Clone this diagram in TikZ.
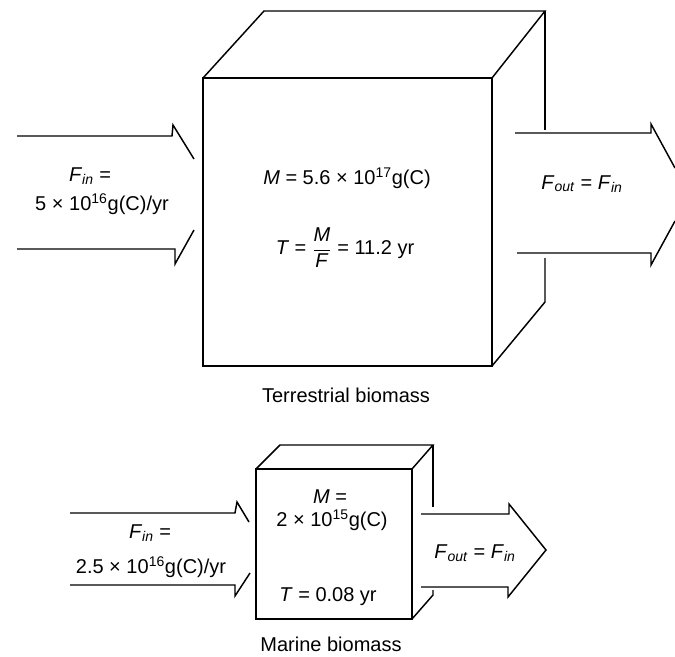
\documentclass[tikz,border=0pt]{standalone}
\usepackage{amsmath}
\usepackage{fontspec}
\setmainfont{Liberation Sans}
\begin{document}
\begin{tikzpicture}[x=0.75pt,y=-0.75pt, line width=1.1pt, line join=miter,
  lbl/.style={font=\fontsize{15}{18}\selectfont, inner sep=0pt, align=center},
  outline/.style={draw=black, line width=1.1pt}]
\useasboundingbox (0,0) rectangle (675,657);

% ---------- terrestrial cube ----------
\coordinate (A1) at (203,78);  \coordinate (A2) at (492,78);
\coordinate (A3) at (492,366); \coordinate (A4) at (203,366);
\coordinate (A5) at (264,11);  \coordinate (A6) at (545,11);
\draw[outline] (A1) -- (A2) -- (A3) -- (A4) -- cycle;
\draw[outline] (A1) -- (A5) -- (A6) -- (A2);
\draw[outline] (A6) -- (545,130);
\draw[outline] (545,258) -- (545,302) -- (A3);

% incoming arrow (tip hidden behind cube)
\draw[outline] (17,136) -- (172,136) -- (173,125) -- (194,159);
\draw[outline] (17,249) -- (175,249) -- (175,264) -- (194,230);

% outgoing arrow (tip cut by the border)
\draw[outline] (515,133) -- (651,133) -- (651,124) -- (675,168);
\draw[outline] (517,253) -- (651,253) -- (651,265) -- (675,221);

\node[lbl] (tin1) at (90,176) {\textit{F}\textsubscript{\textit{in}} =};
\node[lbl] (tin2) at (102,204) {5 × 10\textsuperscript{16}g(C)/yr};
\node[lbl] (tm) at (347,178) {\textit{M} = 5.6 × 10\textsuperscript{17}g(C)};
\node[lbl] (tt) at (345,248) {\textit{T} = $\dfrac{\text{\textit{M}}}{\text{\textit{F}}}$ = 11.2 yr};
\node[lbl] (tout) at (582,184) {\textit{F}\textsubscript{\textit{out}} = \textit{F}\textsubscript{\textit{in}}};
\node[lbl] (tcap) at (346,395) {Terrestrial biomass};

% ---------- marine cube ----------
\coordinate (B1) at (256,469); \coordinate (B2) at (412,469);
\coordinate (B3) at (412,619); \coordinate (B4) at (256,619);
\coordinate (B5) at (280,445); \coordinate (B6) at (433,445);
\draw[outline] (B1) -- (B2) -- (B3) -- (B4) -- cycle;
\draw[outline] (B1) -- (B5) -- (B6) -- (B2);
\draw[outline] (B6) -- (433,507);
\draw[outline] (433,590) -- (433,595) -- (B3);

\draw[outline] (70,513) -- (235,513) -- (237,502) -- (249,522);
\draw[outline] (70,585) -- (235,585) -- (235,596) -- (250,573);

\draw[outline] (421,514) -- (509,514) -- (509,504) -- (546,550) -- (508,597) -- (508,587) -- (421,587);

\node[lbl] (min1) at (150,533) {\textit{F}\textsubscript{\textit{in}} =};
\node[lbl] (min2) at (151,567) {2.5 × 10\textsuperscript{16}g(C)/yr};
\node[lbl] (mm1) at (330,497) {\textit{M} =};
\node[lbl] (mm2) at (332,520) {2 × 10\textsuperscript{15}g(C)};
\node[lbl] (mt) at (328,597) {\textit{T} = 0.08 yr};
\node[lbl] (mout) at (475,553) {\textit{F}\textsubscript{\textit{out}} = \textit{F}\textsubscript{\textit{in}}};
\node[lbl] (mcap) at (331,644) {Marine biomass};
\end{tikzpicture}
\end{document}
